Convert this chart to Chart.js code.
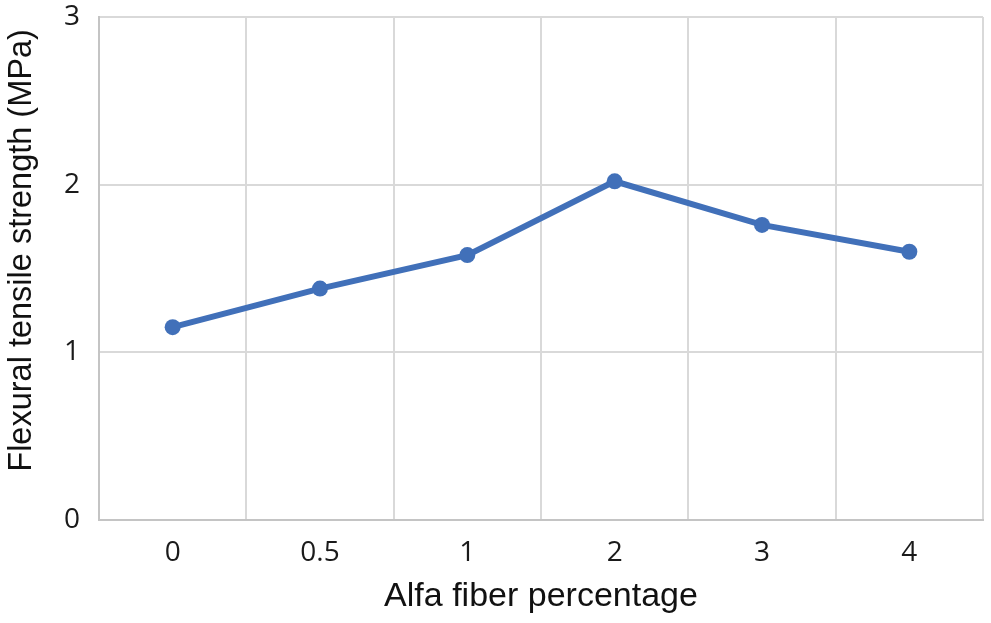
<!DOCTYPE html>
<html>
<head>
<meta charset="utf-8">
<script src="https://cdn.jsdelivr.net/npm/chart.js@4"></script>
<style>
  html, body { margin: 0; padding: 0; background: #fff; }
  #box { width: 991px; height: 623px; position: relative; }
</style>
</head>
<body>
<div id="box"><canvas id="chartFlexao"></canvas></div>
<script>
// fibra de alfa (%) x resistencia a tracao na flexao
const categorias = ['0', '0.5', '1', '2', '3', '4'];
const resistencia = [1.15, 1.38, 1.58, 2.02, 1.76, 1.60];
const ticksY = [0, 1, 2, 3];

const corLinha = '#4170b9';
const corGrade = '#d9d9d9';

const chartFlexao = document.getElementById('chartFlexao');

const config = {
  type: 'line',
  data: {
    labels: categorias,
    datasets: [{
      label: 'Flexural tensile strength',
      data: resistencia,
      borderColor: corLinha,
      backgroundColor: corLinha,
      borderWidth: 6,
      pointRadius: 8,
      pointBorderWidth: 0,
      fill: false,
      tension: 0
    }]
  },
  options: {
    responsive: true,
    maintainAspectRatio: false,
    animation: false,
    layout: {
      padding: { left: 3, right: 6, top: 17, bottom: 6 }
    },
    plugins: {
      legend: { display: false },
      tooltip: { enabled: false }
    },
    scales: {
      x: {
        type: 'category',
        offset: true,
        afterFit: (scale) => { scale.height = 97; },
        grid: { offset: true, color: corGrade, lineWidth: 2, drawTicks: false },
        border: { color: '#c4c4c4', width: 2 },
        ticks: {
          padding: 16,
          color: '#1a1a1a',
          font: { family: 'Open Sans', size: 28 }
        },
        title: {
          display: true,
          text: 'Alfa fiber percentage',
          color: '#111',
          padding: { top: 0, bottom: 0 },
          font: { family: 'Liberation Sans', size: 34 }
        }
      },
      y: {
        min: 0,
        max: 3,
        afterFit: (scale) => {
          scale.width = 96;
          scale.paddingTop = 0;
          scale.paddingBottom = 0;
        },
        afterBuildTicks: (scale) => {
          scale.ticks = ticksY.map(v => ({ value: v }));
        },
        grid: { color: corGrade, lineWidth: 2, drawTicks: false },
        border: { color: '#c4c4c4', width: 2 },
        ticks: {
          padding: 19,
          color: '#1a1a1a',
          font: { family: 'Open Sans', size: 28 }
        },
        title: {
          display: true,
          // espacos no inicio sobem o titulo como no original
          text: '    Flexural tensile strength (MPa)',
          color: '#111',
          padding: { top: 0, bottom: 0 },
          font: { family: 'Liberation Sans', size: 32.5 }
        }
      }
    }
  }
};

let grafico = new Chart(chartFlexao, config);
</script>
</body>
</html>
